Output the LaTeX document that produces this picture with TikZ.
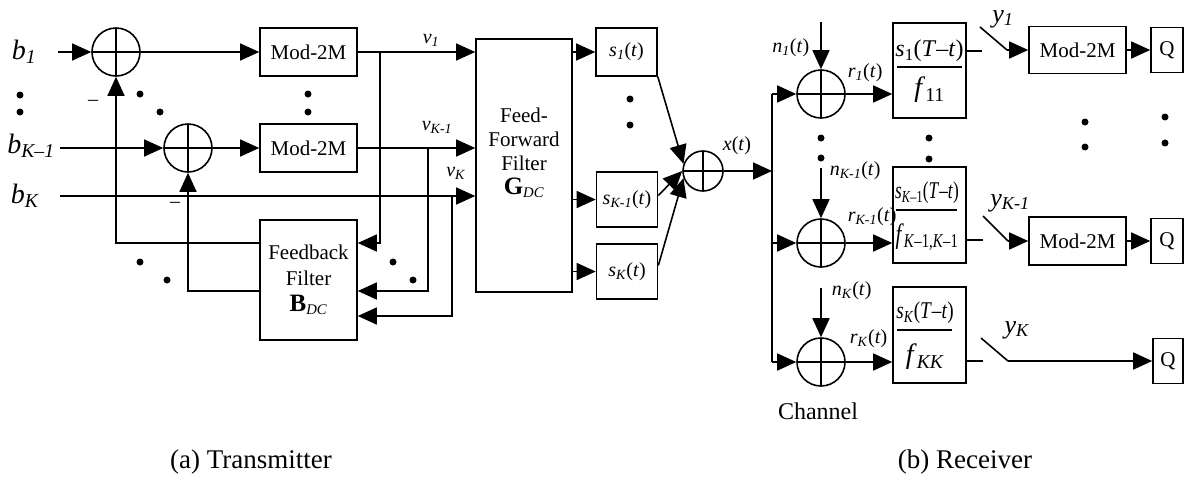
\documentclass[tikz,border=0pt]{standalone}
\usepackage{fontspec}
\usepackage{graphicx}
\setmainfont{Liberation Serif}
\usetikzlibrary{arrows.meta,calc}
\newcommand{\sbs}[1]{\textsubscript{\textit{#1}}}
\newcommand{\fs}[1]{\fontsize{#1}{#1}\selectfont}
\newcommand{\fsb}[2]{\fontsize{#1}{#2}\selectfont}
\begin{document}
\begin{tikzpicture}[x=1pt,y=-1pt,line width=1.6pt,
  arr/.style={-{Triangle[length=19pt,width=17pt]}},
  box/.style={draw,line width=1.6pt,minimum width=97pt,minimum height=48pt,inner sep=0pt,font=\fs{21}},
  sbox/.style={draw,line width=1.6pt,minimum width=61pt,minimum height=55pt,inner sep=0pt,font=\fs{20}},
  qbox/.style={draw,line width=1.6pt,minimum width=32pt,minimum height=45pt,inner sep=0pt,font=\fs{21}},
  mfbox/.style={draw,line width=1.6pt,minimum width=73pt,minimum height=96pt,inner sep=0pt},
  sumc/.style={draw,circle,minimum size=48pt,inner sep=0pt,line width=1.6pt,
    path picture={\draw[line width=1.6pt] (path picture bounding box.north) -- (path picture bounding box.south)
      (path picture bounding box.west) -- (path picture bounding box.east);}},
  lab/.style={inner sep=0pt,font=\fs{20}},
  biglab/.style={inner sep=0pt,font=\fs{28}},
  dot/.style={fill,circle,inner sep=0pt,minimum size=7pt}]
\useasboundingbox (0,0) rectangle (1188,496);

% ---------------- Transmitter ----------------
\node[biglab] (b1) at (24,52) {\textit{b}\sbs{1}};
\node[biglab] (bK1) at (31,146) {\textit{b}\sbs{K–1}};
\node[biglab] (bK) at (25,196) {\textit{b}\sbs{K}};
\coordinate (b1s) at (58,52);
\coordinate (bK1s) at (60,148);
\coordinate (bKs) at (60,196);

\node[sumc] (S1) at (116,52) {};
\node[sumc] (S2) at (188,148) {};
\node[box] (m1) at (308.5,52) {Mod-2M};
\node[box] (m2) at (308.5,148) {Mod-2M};
\node[box,minimum height=120pt,align=center,font=\fsb{21}{26}] (FB) at (308.5,280)
  {Feedback\\Filter\\{\fs{25}\textbf{B}}\sbs{DC}};
\node[draw,line width=1.6pt,minimum width=96pt,minimum height=253pt,inner sep=0pt] (FF) at (524,165.5) {};
\node[lab,align=center,font=\fsb{21}{24}] (FFt) at (524,153)
  {Feed-\\Forward\\Filter\\{\fs{25}\textbf{G}}\sbs{DC}};

\draw[arr] (b1s) -- (S1);
\draw[arr] (bK1s) -- (S2);
\draw[arr] (S1) -- (m1);
\draw[arr] (S2) -- (m2);
\draw[arr] (m1) -- (m1 -| FF.west);
\draw[arr] (m2) -- (m2 -| FF.west);
\draw[arr] (bKs) -- (bKs -| FF.west);

\node[lab] (v1) at (431,40) {\textit{v}\sbs{1}};
\node[lab] (vK1) at (437,127) {\textit{v}\sbs{K-1}};
\node[lab] (vK) at (456,173) {\textit{v}\sbs{K}};

\coordinate (t1) at (380,52);
\coordinate (t2) at (428,148);
\coordinate (t3) at (452,196);
\draw[arr] (t1) |- (FB.east |- 0,243);
\draw[arr] (t2) |- (FB.east |- 0,291);
\draw[arr] (t3) |- (FB.east |- 0,316);
\draw[arr] (FB.west |- 0,243) -| (S1.south);
\draw[arr] (FB.west |- 0,291) -| (S2.south);
\node[lab] (mi1) at (93,103) {–};
\node[lab] (mi2) at (175,205) {–};

\node[dot] (d1) at (20,95) {};
\node[dot] (d2) at (20,112) {};
\node[dot] (d3) at (140,94) {};
\node[dot] (d4) at (160,112) {};
\node[dot] (d5) at (140,262) {};
\node[dot] (d6) at (167,280) {};
\node[dot] (d7) at (308,94) {};
\node[dot] (d8) at (308,112) {};
\node[dot] (d9) at (393,262) {};
\node[dot] (d10) at (413,280) {};
\node[dot] (d11) at (630,99) {};
\node[dot] (d12) at (630,125) {};

\node[sbox,minimum height=48pt] (sb1) at (626.5,52) {\textit{s}\sbs{1}(\textit{t})};
\node[sbox] (sb2) at (627,199.5) {\textit{s}\sbs{K-1}(\textit{t})};
\node[sbox] (sb3) at (627,271.5) {\textit{s}\sbs{K}(\textit{t})};
\draw[arr] (FF.east |- sb1) -- (sb1);
\draw[arr] (FF.east |- sb2) -- (sb2);
\draw[arr] (FF.east |- sb3) -- (sb3);

\node[sumc,minimum size=40pt] (S3) at (703,171) {};
\draw[arr] (sb1.south east) -- (S3.160);
\draw[arr] ([yshift=4pt]sb2.east) -- (S3.180);
\draw[arr] ([yshift=6pt]sb3.east) -- (S3.200);
\node[lab] (xt) at (737,146) {\textit{x}(\textit{t})};

% ---------------- Receiver ----------------
\coordinate (busT) at (772,94);
\coordinate (busB) at (772,362);
\draw (busT) -- (busB);
\draw[arr] (S3) -- (S3 -| busT);

\node[sumc] (R1) at (821,94) {};
\node[sumc] (R2) at (821,243) {};
\node[sumc] (R3) at (821,362) {};
\draw[arr] (busT) -- (R1);
\draw[arr] (R2 -| busT) -- (R2);
\draw[arr] (busB) -- (R3);

\coordinate (n1) at (821,22);
\coordinate (n2) at (821,168);
\coordinate (n3) at (821,288);
\draw[arr] (n1) -- (R1);
\draw[arr] (n2) -- (R2);
\draw[arr] (n3) -- (R3);
\node[lab,anchor=east] (n1l) at (810,48) {\textit{n}\sbs{1}(\textit{t})};
\node[lab,anchor=west] (n2l) at (829,171) {\textit{n}\sbs{K-1}(\textit{t})};
\node[lab,anchor=west] (n3l) at (831,291) {\textit{n}\sbs{K}(\textit{t})};

\node[mfbox,minimum height=95pt] (MF1) at (929.5,70.5) {};
\node[mfbox] (MF2) at (929.5,215) {};
\node[mfbox] (MF3) at (929.5,335) {};
\draw[arr] (R1) -- (R1 -| MF1.west);
\draw[arr] (R2) -- (R2 -| MF2.west);
\draw[arr] (R3) -- (R3 -| MF3.west);
\node[lab,anchor=west] (r1l) at (847,73) {\textit{r}\sbs{1}(\textit{t})};
\node[lab,anchor=west] (r2l) at (847,217) {\textit{r}\sbs{K-1}(\textit{t})};
\node[lab,anchor=west] (r3l) at (849,339) {\textit{r}\sbs{K}(\textit{t})};

\node[lab,font=\fs{24}] (num1) at (929.5,51) {\textit{s}\textsubscript{1}(\textit{T}–\textit{t})};
\draw[line width=1.2pt] (897,67) -- (962,67);
\node[lab,font=\fs{28}] (den1) at (929.5,90) {\textit{f}\textsubscript{11}};
\node[lab,font=\fs{24}] (num2) at (927,193) {\scalebox{0.72}[1]{\textit{s}\textsubscript{\textit{K}–1}(\textit{T}–\textit{t})}};
\draw[line width=1.2pt] (896,210) -- (957,210);
\node[lab,font=\fs{28}] (den2) at (927,237) {\scalebox{0.75}[1]{\textit{f}\textsubscript{\textit{K}–1,\textit{K}–1}}};
\node[lab,font=\fs{24}] (num3) at (925,313) {\scalebox{0.8}[1]{\textit{s}\textsubscript{\textit{K}}(\textit{T}–\textit{t})}};
\draw[line width=1.2pt] (897,330) -- (952,330);
\node[lab,font=\fs{28}] (den3) at (925,357) {\textit{f}\textsubscript{\textit{KK}}};

\node[dot] (d13) at (821,138) {};
\node[dot] (d14) at (821,158) {};
\node[dot] (d15) at (929,138) {};
\node[dot] (d16) at (929,159) {};
\node[dot] (d17) at (1085,122) {};
\node[dot] (d18) at (1085,147) {};
\node[dot] (d19) at (1165,117) {};
\node[dot] (d20) at (1165,143) {};

\node[box,minimum height=47pt] (D1) at (1077.5,50) {Mod-2M};
\node[box] (D2) at (1077.5,241) {Mod-2M};
\node[qbox] (Q1) at (1167,50) {Q};
\node[qbox] (Q2) at (1167,241) {Q};
\node[qbox,minimum width=30pt] (Q3) at (1168,361) {Q};

\coordinate (o1) at (982,51);
\coordinate (w1a) at (980,27);
\coordinate (w1b) at (1007,50);
\draw (MF1.east |- o1) -- (o1);
\draw (w1a) -- (w1b);
\draw[arr] (w1b) -- (D1);
\draw[arr] (D1) -- (Q1);

\coordinate (o2) at (983,240);
\coordinate (w2a) at (983,216);
\coordinate (w2b) at (1008,241);
\draw (MF2.east |- o2) -- (o2);
\draw (w2a) -- (w2b);
\draw[arr] (w2b) -- (D2);
\draw[arr] (D2) -- (Q2);

\coordinate (o3) at (983,361);
\coordinate (w3a) at (981,338);
\coordinate (w3b) at (1008,361);
\draw (MF3.east |- o3) -- (o3);
\draw (w3a) -- (w3b);
\draw[arr] (w3b) -- (Q3);

\node[biglab,font=\fs{26}] (y1) at (1003,19) {\textit{y}\sbs{1}};
\node[biglab,font=\fs{26}] (yK1) at (1010,203) {\textit{y}\sbs{K-1}};
\node[biglab,font=\fs{26}] (yK) at (1017,330) {\textit{y}\sbs{K}};

% captions
\node[lab,font=\fs{24}] (ch) at (818,411) {Channel};
\node[lab,font=\fs{27}] (capa) at (251,462) {(a) Transmitter};
\node[lab,font=\fs{27}] (capb) at (965,462) {(b) Receiver};
\end{tikzpicture}
\end{document}
